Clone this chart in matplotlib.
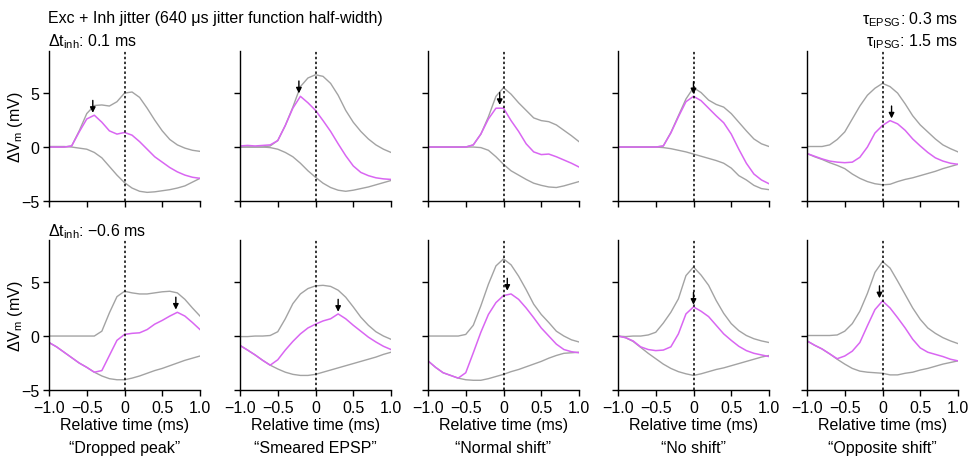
import numpy as np
import matplotlib
matplotlib.use("Agg")
import matplotlib.pyplot as plt

plt.rcParams['font.family'] = ['Liberation Sans', 'DejaVu Sans']
plt.rcParams['font.size'] = 11.5
plt.rcParams['axes.unicode_minus'] = True

# time axis (ms), sampled every 0.1 ms
t = np.linspace(-1.0, 1.0, 21)

categories = ['\u201cDropped peak\u201d', '\u201cSmeared EPSP\u201d', '\u201cNormal shift\u201d',
              '\u201cNo shift\u201d', '\u201cOpposite shift\u201d']

# top row: dt_inh = 0.1 ms
exc_top = [
    [0.0, 0.0, 0.0, 0.1, 1.5, 3.1, 3.85, 3.9, 3.8, 4.2, 5.0, 5.1, 4.6, 3.6, 2.5, 1.5, 0.7, 0.2, -0.1, -0.3, -0.4],
    [0.0, 0.0, 0.0, 0.0, 0.1, 0.6, 2.0, 3.7, 5.6, 6.4, 6.7, 6.55, 5.9, 4.8, 3.4, 2.3, 1.45, 0.75, 0.2, -0.2, -0.5],
    [0.0, 0.0, 0.0, 0.0, 0.0, 0.0, 0.2, 1.2, 2.8, 4.7, 5.5, 4.9, 4.1, 3.4, 2.7, 2.45, 2.35, 2.05, 1.55, 1.05, 0.5],
    [0.0, 0.0, 0.0, 0.0, 0.0, 0.0, 0.1, 1.35, 2.9, 4.45, 5.5, 5.05, 4.35, 3.95, 3.7, 3.1, 2.3, 1.5, 0.75, 0.3, 0.05],
    [0.05, 0.05, 0.05, 0.2, 0.7, 1.4, 2.6, 3.8, 4.8, 5.45, 5.9, 5.6, 5.0, 4.0, 2.9, 2.05, 1.4, 0.75, 0.2, -0.15, -0.45],
]
inh_top = [
    [0.05, 0.05, 0.05, 0.0, -0.1, -0.2, -0.5, -1.0, -1.8, -2.6, -3.3, -3.8, -4.1, -4.2, -4.15, -4.05, -3.95, -3.8, -3.6, -3.25, -2.9],
    [0.0, 0.0, 0.0, 0.0, -0.05, -0.2, -0.5, -0.9, -1.5, -2.2, -2.8, -3.35, -3.75, -4.0, -4.1, -4.0, -3.85, -3.7, -3.5, -3.3, -3.1],
    [0.0, 0.0, 0.0, 0.0, 0.0, 0.0, 0.0, -0.05, -0.3, -0.9, -1.6, -2.2, -2.6, -3.0, -3.35, -3.55, -3.7, -3.75, -3.6, -3.4, -3.2],
    [0.0, 0.0, 0.0, 0.0, 0.0, 0.0, -0.05, -0.15, -0.3, -0.45, -0.65, -0.85, -1.05, -1.25, -1.5, -1.95, -2.65, -3.05, -3.55, -3.85, -3.95],
    [-0.6, -0.9, -1.15, -1.45, -1.7, -2.0, -2.5, -2.9, -3.2, -3.4, -3.5, -3.45, -3.2, -3.0, -2.85, -2.65, -2.45, -2.25, -2.0, -1.8, -1.6],
]
sum_top = [
    [0.0, 0.0, 0.0, 0.1, 1.4, 2.6, 2.95, 2.3, 1.5, 1.2, 1.35, 1.1, 0.5, -0.2, -0.9, -1.4, -1.9, -2.3, -2.6, -2.8, -2.9],
    [0.1, 0.15, 0.1, 0.15, 0.2, 0.6, 2.0, 3.6, 4.7, 4.1, 3.4, 2.45, 1.45, 0.3, -0.8, -1.75, -2.35, -2.65, -2.85, -2.95, -3.0],
    [0.0, 0.0, 0.0, 0.0, 0.0, 0.0, 0.2, 1.2, 2.6, 3.6, 3.6, 2.45, 1.45, 0.3, -0.45, -0.7, -0.65, -0.9, -1.2, -1.5, -1.85],
    [0.0, 0.0, 0.0, 0.0, 0.0, 0.0, 0.1, 1.3, 2.8, 4.2, 4.7, 4.3, 3.6, 2.9, 2.25, 1.2, -0.2, -1.5, -2.5, -3.05, -3.4],
    [-0.6, -0.85, -1.1, -1.3, -1.4, -1.45, -1.4, -0.95, 0.0, 1.3, 2.0, 2.45, 2.15, 1.55, 0.75, 0.1, -0.5, -1.0, -1.3, -1.5, -1.6],
]
peak_t_top = [-0.42, -0.22, -0.05, 0.0, 0.12]
peak_v_top = [2.97, 4.77, 3.7, 4.7, 2.45]

# bottom row: dt_inh = -0.6 ms
exc_bot = [
    [0.0, 0.0, 0.0, 0.0, 0.0, 0.0, 0.0, 0.45, 2.15, 3.65, 4.15, 4.0, 3.9, 3.9, 4.0, 4.1, 4.15, 4.0, 3.4, 2.6, 1.85],
    [-0.05, -0.05, 0.0, 0.0, 0.05, 0.4, 1.6, 3.0, 3.9, 4.4, 4.65, 4.7, 4.6, 4.25, 3.6, 2.7, 1.75, 1.0, 0.4, 0.0, -0.3],
    [0.0, 0.0, 0.0, 0.0, 0.0, 0.15, 1.0, 2.8, 4.8, 6.5, 7.15, 6.6, 5.55, 4.3, 2.95, 2.0, 1.25, 0.45, 0.0, -0.35, -0.55],
    [0.0, -0.05, 0.0, 0.0, 0.1, 0.35, 1.2, 2.2, 3.45, 5.6, 6.4, 5.65, 4.7, 3.3, 2.1, 1.15, 0.5, 0.05, -0.25, -0.45, -0.6],
    [0.05, 0.05, 0.05, 0.05, 0.1, 0.45, 1.15, 2.3, 3.95, 5.9, 6.9, 6.3, 5.1, 3.85, 2.6, 1.55, 0.75, 0.25, -0.15, -0.45, -0.7],
]
inh_bot = [
    [-0.6, -1.0, -1.5, -2.0, -2.5, -2.9, -3.35, -3.7, -3.95, -4.05, -4.05, -3.9, -3.7, -3.45, -3.2, -3.0, -2.75, -2.5, -2.25, -2.05, -1.85],
    [-0.87, -1.3, -1.75, -2.25, -2.7, -3.05, -3.35, -3.55, -3.65, -3.65, -3.55, -3.35, -3.15, -2.95, -2.75, -2.55, -2.35, -2.15, -1.95, -1.7, -1.5],
    [-2.3, -2.9, -3.4, -3.65, -3.9, -4.05, -4.1, -4.1, -3.95, -3.75, -3.55, -3.3, -3.1, -2.85, -2.6, -2.35, -2.05, -1.8, -1.6, -1.55, -1.5],
    [0.0, -0.15, -0.5, -1.05, -1.6, -2.1, -2.6, -3.0, -3.3, -3.5, -3.65, -3.5, -3.3, -3.1, -2.95, -2.75, -2.55, -2.35, -2.15, -1.95, -1.8],
    [-0.45, -0.85, -1.2, -1.65, -2.15, -2.6, -3.0, -3.25, -3.35, -3.4, -3.45, -3.6, -3.6, -3.45, -3.35, -3.15, -3.0, -2.8, -2.6, -2.45, -2.3],
]
sum_bot = [
    [-0.6, -1.0, -1.5, -2.0, -2.5, -2.9, -3.35, -3.2, -1.8, -0.4, 0.15, 0.25, 0.3, 0.6, 1.1, 1.45, 1.85, 2.2, 1.85, 1.25, 0.6],
    [-0.87, -1.3, -1.75, -2.25, -2.7, -2.2, -1.3, -0.5, 0.2, 0.75, 1.1, 1.4, 1.6, 2.05, 1.6, 1.0, 0.45, -0.1, -0.55, -0.95, -1.25],
    [-2.3, -2.9, -3.4, -3.65, -3.9, -3.4, -1.55, 0.35, 2.0, 3.1, 3.75, 3.9, 3.4, 2.6, 1.7, 0.75, 0.0, -0.75, -1.25, -1.45, -1.55],
    [0.0, -0.15, -0.45, -1.0, -1.25, -1.35, -1.3, -1.0, 0.2, 2.05, 2.7, 2.3, 1.8, 1.0, 0.2, -0.4, -0.95, -1.35, -1.6, -1.75, -1.9],
    [-0.45, -0.85, -1.2, -1.65, -2.1, -1.85, -1.4, -0.6, 0.95, 2.45, 3.25, 2.6, 1.7, 0.75, -0.3, -1.1, -1.5, -1.7, -1.9, -2.15, -2.3],
]
peak_t_bot = [0.68, 0.3, 0.05, 0.0, -0.04]
peak_v_bot = [2.25, 2.05, 4.0, 2.7, 3.3]

gray = '#a3a3a3'
magenta = '#d966f2'

W, H = 973, 464
fig = plt.figure(figsize=(W / 100, H / 100), dpi=100)

col_left = [49, 240, 428, 618, 807]   # pixel positions of the y spines
ax_w = 151
row_bottom = [202, 391]               # pixel y of the x spine
ax_h = 150


def draw_panel(ax, exc, inh, summ, pt, pv, first_col, bottom_row):
    ax.plot(t, exc, color=gray, lw=1.0)
    ax.plot(t, inh, color=gray, lw=1.0)
    ax.plot(t, summ, color=magenta, lw=1.1)
    ax.axvline(0, color='k', ls=(0, (1.6, 1.6)), lw=1.1, zorder=3)
    ax.annotate('', xy=(pt, pv + 0.2), xytext=(pt, pv + 1.35),
                arrowprops=dict(arrowstyle='-|>', color='k', lw=1.0,
                                mutation_scale=8, shrinkA=0, shrinkB=0))
    ax.set_xlim(-1, 1)
    ax.set_ylim(-5, 8.9)
    for s in ['top', 'right']:
        ax.spines[s].set_visible(False)
    for s in ['left', 'bottom']:
        ax.spines[s].set_linewidth(1.0)
    ax.set_xticks([-1, -0.5, 0, 0.5, 1])
    ax.set_yticks([-5, 0, 5])
    ax.tick_params(direction='out', length=4, width=1.0, pad=3, labelsize=11.5)
    if bottom_row:
        ax.set_xticklabels(['\u22121.0', '\u22120.5', '0', '0.5', '1.0'])
        ax.set_xlabel('Relative time (ms)', labelpad=2)
    else:
        ax.set_xticklabels([])
    if first_col:
        ax.set_yticklabels(['\u22125', '0', '5'])
        ax.set_ylabel('\u0394V$_\\mathregular{m}$ (mV)')
        ax.yaxis.set_label_coords(-0.16, 0.5)
    else:
        ax.set_yticklabels([])


for r, (exc_r, inh_r, sum_r, pt_r, pv_r) in enumerate([
        (exc_top, inh_top, sum_top, peak_t_top, peak_v_top),
        (exc_bot, inh_bot, sum_bot, peak_t_bot, peak_v_bot)]):
    for c in range(5):
        ax = fig.add_axes([col_left[c] / W, 1 - row_bottom[r] / H, ax_w / W, ax_h / H])
        draw_panel(ax, exc_r[c], inh_r[c], sum_r[c], pt_r[c], pv_r[c], c == 0, r == 1)
        if r == 1:
            fig.text((col_left[c] + ax_w / 2) / W, 1 - 449 / H, categories[c],
                     ha='center', va='center', fontsize=11.5)

fig.text(48 / W, 1 - 19 / H, 'Exc + Inh jitter (640 \u03bcs jitter function half-width)',
         ha='left', va='center', fontsize=11.5)
fig.text(48 / W, 1 - 42 / H, '\u0394t$_\\mathregular{inh}$: 0.1 ms', ha='left', va='center', fontsize=11.5)
fig.text(48 / W, 1 - 232 / H, '\u0394t$_\\mathregular{inh}$: \u22120.6 ms', ha='left', va='center', fontsize=11.5)
fig.text(958 / W, 1 - 20 / H, '\u03c4$_\\mathregular{EPSG}$: 0.3 ms', ha='right', va='center', fontsize=11.5)
fig.text(958 / W, 1 - 42 / H, '\u03c4$_\\mathregular{IPSG}$: 1.5 ms', ha='right', va='center', fontsize=11.5)

fig.savefig('out.png', dpi=100, facecolor='white')
